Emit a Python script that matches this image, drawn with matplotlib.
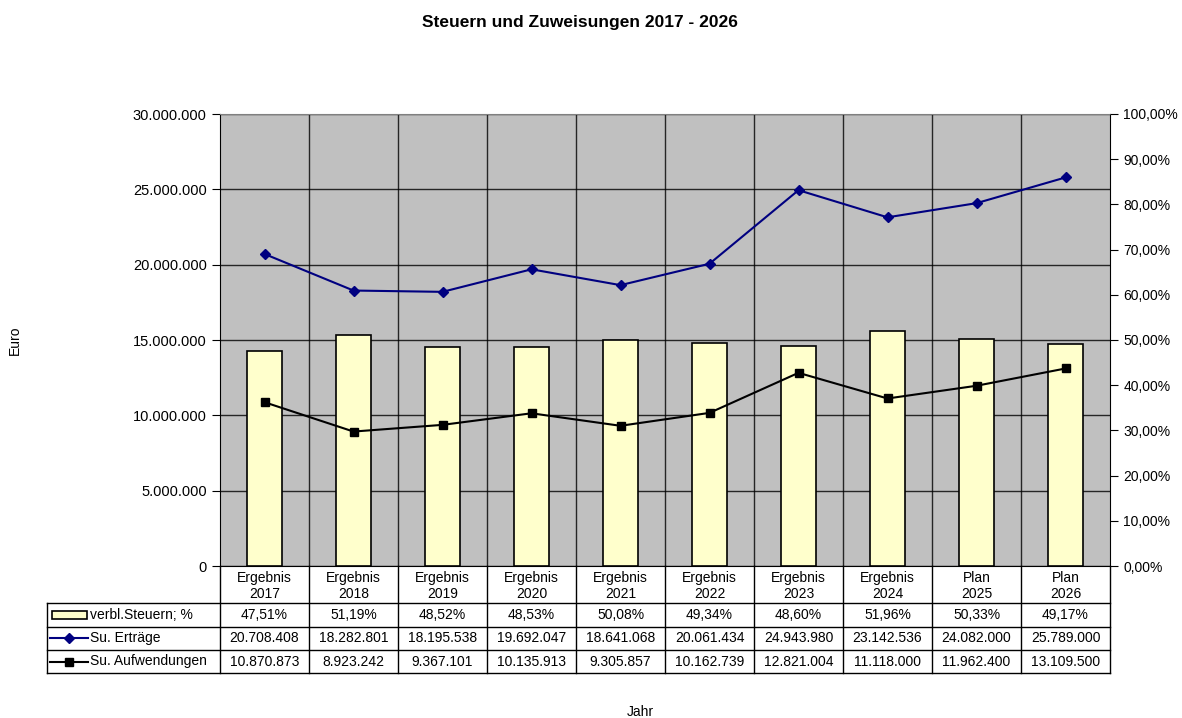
import matplotlib
matplotlib.use("Agg")
import matplotlib.pyplot as plt
from matplotlib.ticker import FuncFormatter, FixedLocator
from matplotlib.transforms import blended_transform_factory
from matplotlib.patches import Rectangle
from matplotlib.lines import Line2D

plt.rcParams['font.family'] = ['Liberation Sans', 'DejaVu Sans']

# ---- data ----
cat_top = ["Ergebnis", "Ergebnis", "Ergebnis", "Ergebnis", "Ergebnis",
           "Ergebnis", "Ergebnis", "Ergebnis", "Plan", "Plan"]
years = ["2017", "2018", "2019", "2020", "2021", "2022", "2023", "2024", "2025", "2026"]
verbl_steuern = [47.51, 51.19, 48.52, 48.53, 50.08, 49.34, 48.60, 51.96, 50.33, 49.17]
su_ertraege = [20708408, 18282801, 18195538, 19692047, 18641068, 20061434,
               24943980, 23142536, 24082000, 25789000]
su_aufwendungen = [10870873, 8923242, 9367101, 10135913, 9305857, 10162739,
                   12821004, 11118000, 11962400, 13109500]
series_names = ["verbl.Steuern; %", "Su. Erträge", "Su. Aufwendungen"]

W, H = 1182, 718
fig = plt.figure(figsize=(W / 100, H / 100), dpi=100)

L, R, T, B = 220, 1110, 114, 566
ax = fig.add_axes([L / W, 1 - B / H, (R - L) / W, (B - T) / H])
ax.set_facecolor("#C0C0C0")
n = len(years)
x = list(range(n))
ax.set_xlim(-0.5, n - 0.5)
ax.set_ylim(0, 30000000)
ax.set_yticks([0, 5e6, 10e6, 15e6, 20e6, 25e6, 30e6])


def de_num(v):
    return f"{int(round(v)):,}".replace(",", ".")


ax.yaxis.set_major_formatter(FuncFormatter(lambda v, p: de_num(v)))
ax.set_xticks([])
ax.xaxis.set_minor_locator(FixedLocator([i + 0.5 for i in range(n - 1)]))
ax.grid(True, axis='y', which='major', color='#000000', linewidth=1.0, alpha=0.8)
ax.grid(True, axis='x', which='minor', color='#000000', linewidth=1.0, alpha=0.8)
ax.tick_params(axis='x', which='both', length=0)
ax.tick_params(axis='y', length=6, labelsize=10.5, direction='out', color='black')
ax.set_axisbelow(True)
ax.spines['top'].set_color('#808080')
ax.spines['left'].set_color('black')
ax.spines['bottom'].set_color('black')
ax.spines['right'].set_color('black')

# bars on percent axis
axp = ax.twinx()
axp.set_ylim(0, 100)
axp.set_yticks(range(0, 101, 10))
axp.yaxis.set_major_formatter(FuncFormatter(lambda v, p: f"{v:.2f}".replace(".", ",") + "%"))
axp.tick_params(axis='y', length=6, labelsize=10, direction='out')
axp.bar(x, verbl_steuern, width=0.4, color="#FFFFCC", edgecolor="black", linewidth=1.2)
for s in axp.spines.values():
    s.set_visible(False)

# lines on top
axl = ax.twinx()
axl.set_ylim(0, 30000000)
axl.set_yticks([])
for s in axl.spines.values():
    s.set_visible(False)
axl.plot(x, su_ertraege, color="#000080", marker='D', markersize=5.5, linewidth=1.5)
axl.plot(x, su_aufwendungen, color="black", marker='s', markersize=6, linewidth=1.5)

# title & labels
fig.text(580 / W, 1 - 22 / H, "Steuern und Zuweisungen 2017 - 2026", ha='center', va='center',
         fontsize=12.5, fontweight='bold')
fig.text(15 / W, 1 - 340 / H, "Euro", rotation=90, ha='center', va='center', fontsize=10)
fig.text(640 / W, 1 - 712 / H, "Jahr", ha='center', va='center', fontsize=10)

# ---- data table ----
tr = blended_transform_factory(ax.transData, fig.transFigure)
ff = fig.transFigure
def fy(py):
    return 1 - py / H

rows = [603, 626.5, 650, 673]
lw = 1.0
for i in range(n + 1):
    xb = i - 0.5
    fig.add_artist(Line2D([xb, xb], [fy(B), fy(rows[-1])], transform=tr, color='black', lw=lw))
x0 = 47 / W
for py in rows:
    fig.add_artist(Line2D([x0, R / W], [fy(py), fy(py)], transform=ff, color='black', lw=lw))
fig.add_artist(Line2D([x0, x0], [fy(rows[0]), fy(rows[-1])], transform=ff, color='black', lw=lw))

for i in range(n):
    fig.text(i, fy(578), cat_top[i], transform=tr, ha='center', va='center', fontsize=10)
    fig.text(i, fy(594), years[i], transform=tr, ha='center', va='center', fontsize=10)

row_vals = [
    [f"{v:.2f}".replace(".", ",") + "%" for v in verbl_steuern],
    [de_num(v) for v in su_ertraege],
    [de_num(v) for v in su_aufwendungen],
]
for r in range(3):
    yc = (rows[r] + rows[r + 1]) / 2
    for i in range(n):
        fig.text(i, fy(yc), row_vals[r][i], transform=tr, ha='center', va='center', fontsize=10)
    fig.text(90 / W, fy(yc), series_names[r], transform=ff, ha='left', va='center', fontsize=10)

# legend keys
yc0 = (rows[0] + rows[1]) / 2
fig.add_artist(Rectangle((52 / W, fy(yc0 + 4)), 35 / W, 8 / H, transform=ff,
                         facecolor="#FFFFCC", edgecolor='black', lw=1.2))
yc1 = (rows[1] + rows[2]) / 2
fig.add_artist(Line2D([50 / W, 88 / W], [fy(yc1)] * 2, transform=ff, color="#000080", lw=1.5))
fig.add_artist(Line2D([69 / W], [fy(yc1)], transform=ff, color="#000080", marker='D', markersize=5.5))
yc2 = (rows[2] + rows[3]) / 2
fig.add_artist(Line2D([50 / W, 88 / W], [fy(yc2)] * 2, transform=ff, color="black", lw=1.5))
fig.add_artist(Line2D([69 / W], [fy(yc2)], transform=ff, color="black", marker='s', markersize=6))

fig.savefig("out.png", dpi=100)
